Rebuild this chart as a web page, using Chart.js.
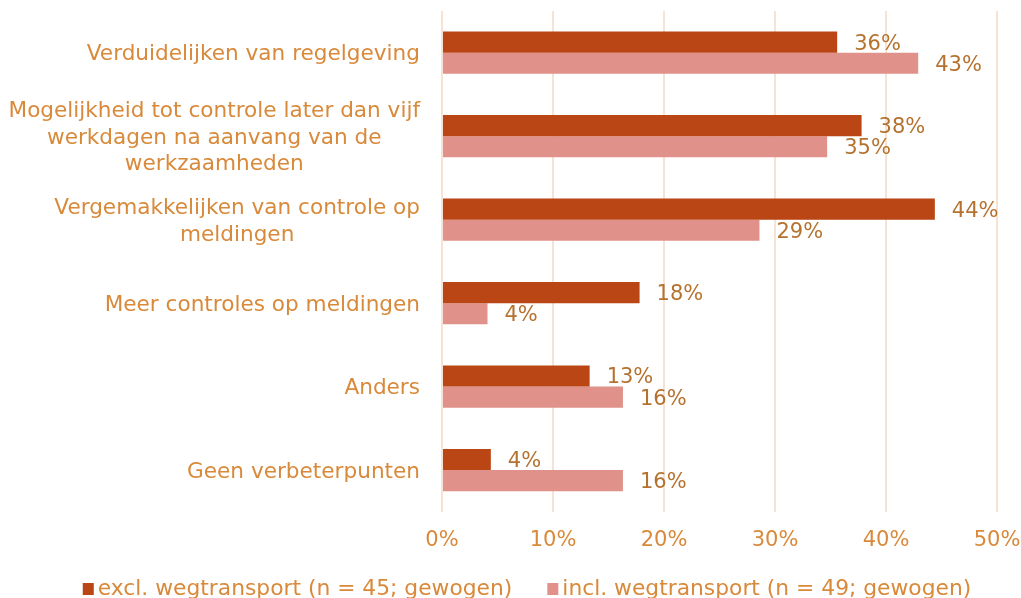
<!DOCTYPE html>
<html>
<head>
<meta charset="utf-8">
<script src="https://cdn.jsdelivr.net/npm/chart.js@4/dist/chart.umd.min.js"></script>
<style>
  html, body { margin: 0; padding: 0; background: #ffffff; overflow: hidden; }
  #wrap { position: relative; width: 1021px; height: 598px; }
</style>
</head>
<body>
<div id="wrap"><canvas id="c"></canvas></div>
<script>
const categories = [
  ["Verduidelijken van regelgeving"],
  ["Mogelijkheid tot controle later dan vijf", "werkdagen na aanvang van de", "werkzaamheden"],
  ["Vergemakkelijken van controle op", "meldingen"],
  ["Meer controles op meldingen"],
  ["Anders"],
  ["Geen verbeterpunten"]
];
const seriesNames = ["excl. wegtransport (n = 45; gewogen)", "incl. wegtransport (n = 49; gewogen)"];
const exclValues = [35.6, 37.8, 44.4, 17.8, 13.3, 4.4];
const inclValues = [42.9, 34.7, 28.6, 4.1, 16.3, 16.3];
const xTicks = [0, 10, 20, 30, 40, 50];

const FONT = "'DejaVu Sans', Verdana, sans-serif";
const LABEL_COLOR = "#D9893A";
const VALUE_COLOR = "#B5722F";
const COLORS = ['#BA4515', '#E0928A'];

const categoryLabelPlugin = {
  id: 'categoryLabels',
  afterDraw(chart) {
    const ctx = chart.ctx;
    const y = chart.scales.y;
    const right = chart.chartArea.left - 22;
    const lineH = 26.5;
    ctx.save();
    ctx.font = "21.6px " + FONT;
    ctx.fillStyle = LABEL_COLOR;
    ctx.textAlign = 'center';
    ctx.textBaseline = 'middle';
    categories.forEach((lines, i) => {
      const cy = y.getPixelForTick(i) + 2;
      const w = Math.max(...lines.map(l => ctx.measureText(l).width));
      const cx = right - w / 2;
      const top = cy - (lines.length - 1) * lineH / 2;
      lines.forEach((l, k) => ctx.fillText(l, cx, top + k * lineH));
    });
    ctx.restore();
  }
};

const valueLabelPlugin = {
  id: 'valueLabels',
  afterDatasetsDraw(chart) {
    const ctx = chart.ctx;
    ctx.save();
    ctx.font = "21px " + FONT;
    ctx.fillStyle = VALUE_COLOR;
    ctx.textAlign = 'left';
    ctx.textBaseline = 'middle';
    chart.data.datasets.forEach((ds, di) => {
      const meta = chart.getDatasetMeta(di);
      meta.data.forEach((bar, i) => {
        ctx.fillText(Math.round(ds.data[i]) + '%', bar.x + 17, bar.y + 2);
      });
    });
    ctx.restore();
  }
};

const legendPlugin = {
  id: 'bottomLegend',
  afterDraw(chart) {
    const ctx = chart.ctx;
    ctx.save();
    ctx.font = "21.8px " + FONT;
    ctx.textAlign = 'left';
    ctx.textBaseline = 'middle';
    const box = 11, gapText = 4, gapItem = 35, cy = 589;
    const widths = chart.data.datasets.map(ds => ctx.measureText(ds.label).width);
    const total = widths.reduce((a, w) => a + box + gapText + w, 0) + gapItem * (widths.length - 1);
    let x = 527 - total / 2;
    chart.data.datasets.forEach((ds, i) => {
      ctx.fillStyle = ds.backgroundColor;
      ctx.fillRect(x, cy - 6, box, 12);
      x += box + gapText;
      ctx.fillStyle = LABEL_COLOR;
      ctx.fillText(ds.label, x, cy);
      x += widths[i] + gapItem;
    });
    ctx.restore();
  }
};

new Chart(document.getElementById('c'), {
  type: 'bar',
  data: {
    labels: categories.map(c => c.join(' ')),
    datasets: [
      { label: seriesNames[0], data: exclValues, backgroundColor: COLORS[0], borderWidth: 0 },
      { label: seriesNames[1], data: inclValues, backgroundColor: COLORS[1], borderWidth: 0 }
    ]
  },
  options: {
    indexAxis: 'y',
    responsive: true,
    maintainAspectRatio: false,
    animation: false,
    barPercentage: 1,
    categoryPercentage: 0.506,
    layout: { padding: { top: 11, right: 0, left: 0, bottom: 29 } },
    scales: {
      x: {
        min: 0, max: 50,
        afterBuildTicks(scale) { scale.ticks = xTicks.map(v => ({ value: v })); },
        afterFit(scale) { scale.paddingRight = 24; },
        ticks: {
          callback: v => v + '%',
          color: LABEL_COLOR,
          font: { family: FONT, size: 21 },
          padding: 16,
          maxRotation: 0
        },
        grid: { color: '#F7E3D3', lineWidth: 2, drawTicks: false },
        border: { display: false }
      },
      y: {
        ticks: { display: false },
        grid: { display: false },
        border: { display: false },
        afterFit(scale) { scale.width = 442; }
      }
    },
    plugins: {
      legend: { display: false },
      tooltip: { enabled: false }
    }
  },
  plugins: [categoryLabelPlugin, valueLabelPlugin, legendPlugin]
});
</script>
</body>
</html>
